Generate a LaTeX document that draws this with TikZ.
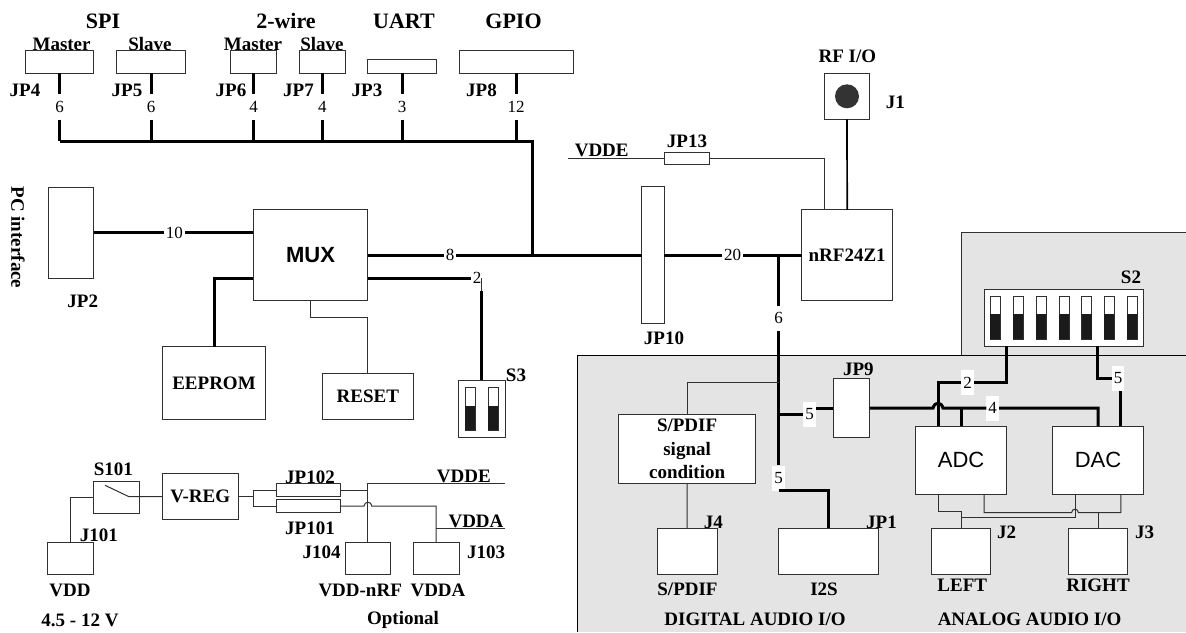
\documentclass[tikz,border=0pt]{standalone}
\usepackage{fontspec}
\setmainfont{Liberation Serif}
\newfontfamily\blocksans{Liberation Sans}
\definecolor{audioGray}{HTML}{E4E4E4}
\definecolor{wireGray}{HTML}{303030}
\definecolor{slotDark}{HTML}{1A1A1A}
\definecolor{jackDark}{HTML}{333333}
\tikzset{
  block/.style={draw=wireGray, fill=white, line width=1pt, inner sep=0pt, outer sep=0pt, font=\fontsize{19}{23.5}\selectfont\bfseries, align=center},
  tag/.style={inner sep=0pt, font=\fontsize{19}{23}\selectfont\bfseries},
  headline/.style={inner sep=0pt, font=\fontsize{22}{26}\selectfont\bfseries},
  pinnum/.style={fill=white, inner xsep=2pt, inner ysep=0pt, minimum height=25pt, font=\fontsize{17}{20}\selectfont},
  bus/.style={draw=black, line width=3pt},
  wire/.style={draw=wireGray, line width=1pt},
  feed/.style={draw=black, line width=1.7pt},
  slot/.style={draw=wireGray, fill=white, line width=0.8pt}
}

\begin{document}
\begin{tikzpicture}[x=1pt, y=-1pt]
  \useasboundingbox (0,0) rectangle (1186,632);

  % audio areas
  \fill[audioGray] (961.3,232.5) rectangle (1186,355.7);
  \fill[audioGray] (577.3,355.7) rectangle (1186,632);
  \draw[wire] (1186,232.5) -- (961.3,232.5) -- (961.3,355.7);
  \draw[wire, draw=black] (577.3,632) -- (577.3,355.7) -- (1186,355.7);

  % expansion headers
  \node[block, minimum width=68.5pt, minimum height=23pt] (jpfour) at (59.7,61.5) {};
  \node[block, minimum width=69pt, minimum height=23pt] (jpfive) at (151.2,61.5) {};
  \node[block, minimum width=45.5pt, minimum height=23pt] (jpsix) at (253.6,61.5) {};
  \node[block, minimum width=46pt, minimum height=23pt] (jpseven) at (322.3,61.5) {};
  \node[block, minimum width=68.5pt, minimum height=13.7pt] (jpthree) at (402,66.2) {};
  \node[block, minimum width=114.3pt, minimum height=23pt] (jpeight) at (516.2,61.5) {};

  \node[headline] (spi) at (103,21) {SPI};
  \node[headline] (twowire) at (286,21) {2-wire};
  \node[headline] (uart) at (404,21) {UART};
  \node[headline] (gpio) at (513.5,21) {GPIO};
  \node[tag] (mastera) at (61.6,44) {Master};
  \node[tag] (slavea) at (150,44) {Slave};
  \node[tag] (masterb) at (253,44) {Master};
  \node[tag] (slaveb) at (322,44) {Slave};
  \node[tag] (jpfourtag) at (25,90) {JP4};
  \node[tag] (jpfivetag) at (127,90) {JP5};
  \node[tag] (jpsixtag) at (231,90) {JP6};
  \node[tag] (jpseventag) at (298.5,90) {JP7};
  \node[tag] (jpthreetag) at (367,90) {JP3};
  \node[tag] (jpeighttag) at (481.5,90) {JP8};

  \node[pinnum] (numa) at (59.7,107) {6};
  \node[pinnum] (numb) at (151.2,107) {6};
  \node[pinnum] (numc) at (253.6,107) {4};
  \node[pinnum] (numd) at (322.3,107) {4};
  \node[pinnum] (nume) at (402,107) {3};
  \node[pinnum] (numf) at (516.2,107) {12};

  \coordinate (busleft) at (59.7,141);
  \coordinate (busright) at (532,141);
  \draw[bus] (jpfour.south) -- (numa) -- (numa |- busleft);
  \draw[bus] (jpfive.south) -- (numb) -- (numb |- busleft);
  \draw[bus] (jpsix.south) -- (numc) -- (numc |- busleft);
  \draw[bus] (jpseven.south) -- (numd) -- (numd |- busleft);
  \draw[bus] (jpthree.south) -- (nume) -- (nume |- busleft);
  \draw[bus] (jpeight.south) -- (numf) -- (numf |- busleft);

  % main blocks
  \node[block, minimum width=45.4pt, minimum height=91pt] (jptwo) at (71,232.8) {};
  \node[block, minimum width=114.4pt, minimum height=91pt, font=\blocksans\fontsize{22}{26}\selectfont\bfseries] (mux) at (310.5,255.3) {MUX};
  \node[block, minimum width=102.6pt, minimum height=72.6pt] (eeprom) at (214,383) {EEPROM};
  \node[block, minimum width=91pt, minimum height=45.6pt] (reset) at (367.8,396.5) {RESET};
  \node[block, minimum width=46.3pt, minimum height=57.4pt] (sthree) at (481.9,409) {};
  \node[block, minimum width=22.6pt, minimum height=136.7pt] (jpten) at (653,255.3) {};
  \node[block, minimum width=91pt, minimum height=90.7pt] (nrf) at (847.2,255.3) {nRF24Z1};
  \node[block, minimum width=45.4pt, minimum height=46pt] (jone) at (847,96.3) {};
  \node[block, minimum width=45.5pt, minimum height=12pt] (jpthirteen) at (687.2,158.5) {};
  \fill[jackDark] (jone.center) circle (12);

  \node[tag, rotate=-90] (pcif) at (18,237.5) {PC interface};
  \node[tag] (jptwotag) at (82.7,301.3) {JP2};
  \node[tag] (rfio) at (847.3,56.7) {RF I/O};
  \node[tag] (jonetag) at (895.3,102.7) {J1};
  \node[tag] (vddenrf) at (601.7,150) {VDDE};
  \node[tag] (jpthirteentag) at (687,141) {JP13};
  \node[tag] (jptentag) at (664,338) {JP10};
  \node[tag] (sthreetag) at (516,375.7) {S3};

  \node[pinnum] (numten) at (174.3,232.8) {10};
  \node[pinnum] (numeight) at (450,255.3) {8};
  \node[pinnum] (numtwoa) at (477,278) {2};
  \node[pinnum] (numtwenty) at (732.7,255.3) {20};
  \node[pinnum] (numsix) at (778.7,318.3) {6};

  \coordinate (muxlow) at (367.7,278);
  \coordinate (muxlowleft) at (253.3,278);
  \coordinate (muxdown) at (310.7,300.7);
  \coordinate (resetbend) at (310.7,317.7);
  \coordinate (sthreetap) at (481.9,291);
  \coordinate (busdrop) at (532,255.3);
  \coordinate (trunktop) at (778.7,255.3);
  \coordinate (vddefree) at (568,158.5);
  \coordinate (nrfpower) at (824.3,209.9);

  \draw[bus] (busleft) -- (busright) -- (busdrop);
  \draw[bus] (jptwo.east |- numten) -- (numten) -- (mux.west |- numten);
  \draw[bus] (mux.east) -- (numeight) -- (jpten.west);
  \draw[bus] (jpten.east) -- (numtwenty) -- (nrf.west);
  \draw[bus] (muxlow) -- (numtwoa);
  \draw[wire] (sthreetap) -- (sthreetap |- numtwoa);
  \draw[bus] (sthreetap) -- (sthree.north);
  \draw[bus] (muxlowleft) -| (eeprom.north);
  \draw[wire] (muxdown) -- (resetbend) -| (reset.north);
  \draw[feed] (jone.south) -- (nrf.north);
  \draw[wire] (vddefree) -- (jpthirteen.west);
  \draw[wire] (jpthirteen.east) -| (nrfpower);

  % small switch S3
  \foreach \slotx in {470.4,493.2} {
    \draw[slot] (\slotx-5,387.3) rectangle (\slotx+5,430);
    \fill[slotDark] (\slotx-5,405.7) rectangle (\slotx+5,430);
  }

  % audio blocks
  \node[block, minimum width=159.7pt, minimum height=56.6pt] (stwo) at (1063.9,318) {};
  \node[block, minimum width=36.4pt, minimum height=59pt] (jpnine) at (851.5,408.2) {};
  \node[block, minimum width=136.8pt, minimum height=68.6pt] (spdifcond) at (687.1,449) {S/PDIF\\signal\\condition};
  \node[block, minimum width=91.2pt, minimum height=68pt, font=\blocksans\fontsize{22}{26}\selectfont] (adc) at (961.1,460.3) {ADC};
  \node[block, minimum width=91.2pt, minimum height=68pt, font=\blocksans\fontsize{22}{26}\selectfont] (dac) at (1098,460.3) {DAC};
  \node[block, minimum width=59.9pt, minimum height=46pt] (jfour) at (687.2,551.3) {};
  \node[block, minimum width=100.1pt, minimum height=46pt] (jpone) at (828.8,551.3) {};
  \node[block, minimum width=59.1pt, minimum height=46pt] (jtwo) at (961,551.3) {};
  \node[block, minimum width=58.8pt, minimum height=46pt] (jthree) at (1098,551.3) {};

  \foreach \slotx in {995.3,1018,1041,1064,1086.7,1109.3,1132.3} {
    \draw[slot] (\slotx-5,296.3) rectangle (\slotx+5,339);
    \fill[slotDark] (\slotx-5,314) rectangle (\slotx+5,339);
  }

  \node[tag] (stwotag) at (1131,277.3) {S2};
  \node[tag] (jpninetag) at (858.3,369) {JP9};
  \node[tag] (jfourtag) at (713.4,522) {J4};
  \node[tag] (jponetag) at (881.5,522) {JP1};
  \node[tag] (jtwotag) at (1006.7,532.7) {J2};
  \node[tag] (jthreetag) at (1144.7,532.7) {J3};
  \node[tag] (spdiftag) at (687.5,589.3) {S/PDIF};
  \node[tag] (istag) at (824,589.3) {I2S};
  \node[tag] (lefttag) at (962.3,585.7) {LEFT};
  \node[tag] (righttag) at (1098,585.7) {RIGHT};
  \node[tag] (digitalio) at (755,619.3) {DIGITAL AUDIO I/O};
  \node[tag] (analogio) at (1029.6,619.3) {ANALOG AUDIO I/O};

  \node[pinnum] (numfivea) at (778.7,478) {5};
  \node[pinnum] (numfiveb) at (809.7,414.3) {5};
  \node[pinnum] (numfivec) at (1118,378.3) {5};
  \node[pinnum] (numtwob) at (967.7,382.7) {2};
  \node[pinnum] (numfour) at (992.7,408.2) {4};

  \coordinate (trunkspdif) at (778.7,382.7);
  \coordinate (trunkjp) at (778.7,414.3);
  \coordinate (stwoa) at (1006.7,346.3);
  \coordinate (stwob) at (1097.3,346.3);
  \coordinate (adcbusa) at (938.3,426.3);
  \coordinate (dacbusb) at (1120.7,426.3);
  \coordinate (adclefta) at (938.3,494.3);
  \coordinate (adcleftb) at (984,494.3);
  \coordinate (dacrighta) at (1075,494.3);
  \coordinate (dacrightb) at (1120.8,494.3);
  \coordinate (jtwotee) at (961,511.7);
  \coordinate (jtwolow) at (961,517);
  \coordinate (jthreetee) at (1098,512.7);

  \draw[bus] (trunktop) -- (numsix) -- (numfivea);
  \draw[bus] (numfivea.south) -- (jpone.north |- numfivea.south) -- (jpone.north);
  \draw[bus] (trunkjp) -- (numfiveb.west);
  \draw[bus] (numfiveb.east |- jpnine.west) -- (jpnine.west);
  \draw[wire] (spdifcond.north) |- (trunkspdif);
  \draw[wire] (spdifcond.south) -- (jfour.north);
  \draw[bus] (stwoa) -- (stwoa |- numtwob) -- (numtwob) -- (adcbusa |- numtwob) -- (adcbusa);
  \draw[bus] (stwob) -- (stwob |- numfivec) -- (numfivec.west);
  \draw[bus] (dacbusb |- numfivec.south) -- (dacbusb);
  \draw[bus] (jpnine.east) -- (933,408.2) .. controls (934.5,401.5) and (941.5,401.5) .. (943,408.2) -- (numfour) -- (dac.north |- numfour) -- (dac.north);
  \draw[bus] (adc.north |- numfour) -- (adc.north);
  \draw[wire] (adclefta) |- (jtwotee) -- (jtwo.north);
  \draw[wire] (dacrighta) |- (jtwolow);
  \draw[wire] (adcleftb) |- (1071.5,512.7) .. controls (1072,508) and (1078,508) .. (1078.5,512.7) -| (dacrightb);
  \draw[wire] (jthree.north) -- (jthreetee);

  % power section
  \node[block, minimum width=46.1pt, minimum height=32pt] (sone) at (116.7,497) {};
  \node[block, minimum width=45.8pt, minimum height=32pt] (jvdd) at (70.8,558.3) {};
  \node[block, minimum width=76.1pt, minimum height=46pt] (vreg) at (200.2,496.7) {V-REG};
  \node[block, minimum width=64.4pt, minimum height=13.4pt] (jpvdde) at (308.4,490) {};
  \node[block, minimum width=64.4pt, minimum height=13.4pt] (jpvdda) at (308.4,506) {};
  \node[block, minimum width=45.1pt, minimum height=32pt] (jvddrf) at (367.9,558.3) {};
  \node[block, minimum width=45.8pt, minimum height=32pt] (jvddopt) at (436.1,558.3) {};

  \node[tag] (sonetag) at (113.3,469.3) {S101};
  \node[tag] (jvddtag) at (98.8,535) {J101};
  \node[tag] (vddtag) at (70,590) {VDD};
  \node[tag] (rangetag) at (80,620) {4.5 - 12 V};
  \node[tag] (jpvddetag) at (310,477) {JP102};
  \node[tag] (jpvddatag) at (310,528) {JP101};
  \node[tag] (vddeout) at (463.8,476.7) {VDDE};
  \node[tag] (vddaout) at (476,521.7) {VDDA};
  \node[tag] (jvddrftag) at (321.6,552.3) {J104};
  \node[tag] (jvddopttag) at (486.2,552.3) {J103};
  \node[tag] (vddrftag) at (360.2,590) {VDD-nRF};
  \node[tag] (vddopttag) at (438,590) {VDDA};
  \node[tag] (optional) at (403,620) {Optional};

  \coordinate (bladetip) at (105,485.3);
  \coordinate (bladepivot) at (129,496.7);
  \coordinate (forkmid) at (253.8,496.7);
  \coordinate (vddetap) at (367.9,483.3);
  \coordinate (vddeend) at (505,483.3);
  \coordinate (vddatap) at (436.1,528.7);
  \coordinate (vddaend) at (505,528.7);

  \draw[wire] (jvdd.north) |- (sone.west);
  \draw[wire] (bladetip) -- (bladepivot) -- (vreg.west);
  \draw[wire] (vreg.east) -- (forkmid);
  \draw[wire] (jpvdde.west) -| (forkmid) |- (jpvdda.west);
  \draw[wire] (jpvdde.east) -- (jpvdde.east -| vddetap);
  \draw[wire] (jvddrf.north) -- (vddetap) -- (vddeend);
  \draw[wire] (jpvdda.east) -- (364,506) .. controls (364.5,501) and (371.3,501) .. (371.8,506) -| (jvddopt.north);
  \draw[wire] (vddatap) -- (vddaend);
\end{tikzpicture}
\end{document}
